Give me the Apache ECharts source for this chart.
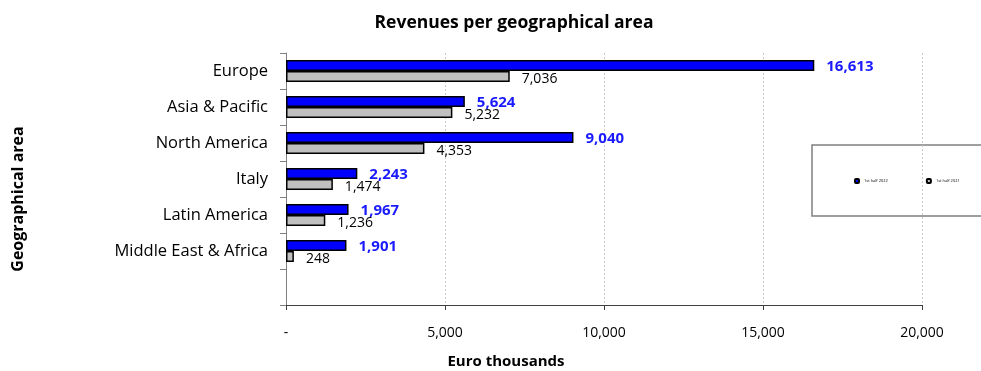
<!DOCTYPE html>
<html><head><meta charset="utf-8">
<script src="https://cdn.jsdelivr.net/npm/echarts@6/dist/echarts.min.js"></script>
<style>html,body{margin:0;padding:0;background:#fff}#c{width:981px;height:371px}</style>
</head><body><div id="c"></div>
<script>
const categories = ['Europe','Asia & Pacific','North America','Italy','Latin America','Middle East & Africa',''];
const values2022 = [16613,5624,9040,2243,1967,1901,null];
const values2021 = [7036,5232,4353,1474,1236,248,null];
const seriesNames = ['1st half 2022','1st half 2021'];
const xTicks = [0,5000,10000,15000,20000];

const F = '"Open Sans", Lato, sans-serif';
const fmt = v => v === 0 ? '-' : v.toLocaleString('en-US');
const chart = echarts.init(document.getElementById('c'));
chart.setOption({
  animation:false,
  title:{text:'Revenues per geographical area',left:509,top:9,textAlign:'center',
    textStyle:{fontFamily:F,fontSize:17.5,fontWeight:'bold',color:'#000'}},
  grid:{left:286,right:59,top:53,bottom:66},
  legend:{left:854,top:178,orient:'horizontal',itemWidth:4,itemHeight:4,itemGap:38,
    padding:0,width:200,
    textStyle:{fontSize:4,fontFamily:F,color:'#000'},
    data:seriesNames},
  xAxis:{type:'value',min:xTicks[0],max:xTicks[xTicks.length-1],interval:5000,
    axisLine:{show:true,lineStyle:{color:'#404040',width:1}},
    axisTick:{show:true,length:5,lineStyle:{color:'#404040'}},
    splitLine:{show:true,lineStyle:{color:'#c8c8c8',type:[2,2],width:1}},
    axisLabel:{formatter:fmt,fontFamily:F,fontSize:14,color:'#000',margin:21}},
  yAxis:{type:'category',data:categories,inverse:true,
    axisLine:{show:true,lineStyle:{color:'#808080',width:1}},
    axisTick:{show:true,length:6,lineStyle:{color:'#808080'}},
    axisLabel:{fontFamily:F,fontSize:16.5,color:'#000',margin:18}},
  graphic:[
    {type:'text',x:18,y:199,rotation:Math.PI/2,style:{text:'Geographical area',fontFamily:F,fontSize:16,fontWeight:'bold',fill:'#000',textAlign:'center',textVerticalAlign:'middle'}},
    {type:'text',x:506,y:362,style:{text:'Euro thousands',fontFamily:F,fontSize:15,fontWeight:'bold',fill:'#000',textAlign:'center',textVerticalAlign:'middle'}},
    {type:'rect',shape:{x:812,y:145,width:190,height:71},style:{fill:'none',stroke:'#808080',lineWidth:1.5},z:-1}
  ],
  series:[
    {name:seriesNames[0],type:'bar',data:values2022,barWidth:11,barGap:'0%',
      itemStyle:{color:'#0000ff',borderColor:'#000',borderWidth:1.5},
      label:{show:true,position:'right',distance:12,offset:[0,1],formatter:p=>fmt(p.value),fontFamily:F,fontSize:15,fontWeight:'bold',color:'#1a1aff'}},
    {name:seriesNames[1],type:'bar',data:values2021,barWidth:11,barGap:'0%',
      itemStyle:{color:'#c0c0c0',borderColor:'#000',borderWidth:1.5},
      label:{show:true,position:'right',distance:12,offset:[0,3],formatter:p=>fmt(p.value),fontFamily:F,fontSize:14,color:'#000'}}
  ]
});
</script></body></html>
